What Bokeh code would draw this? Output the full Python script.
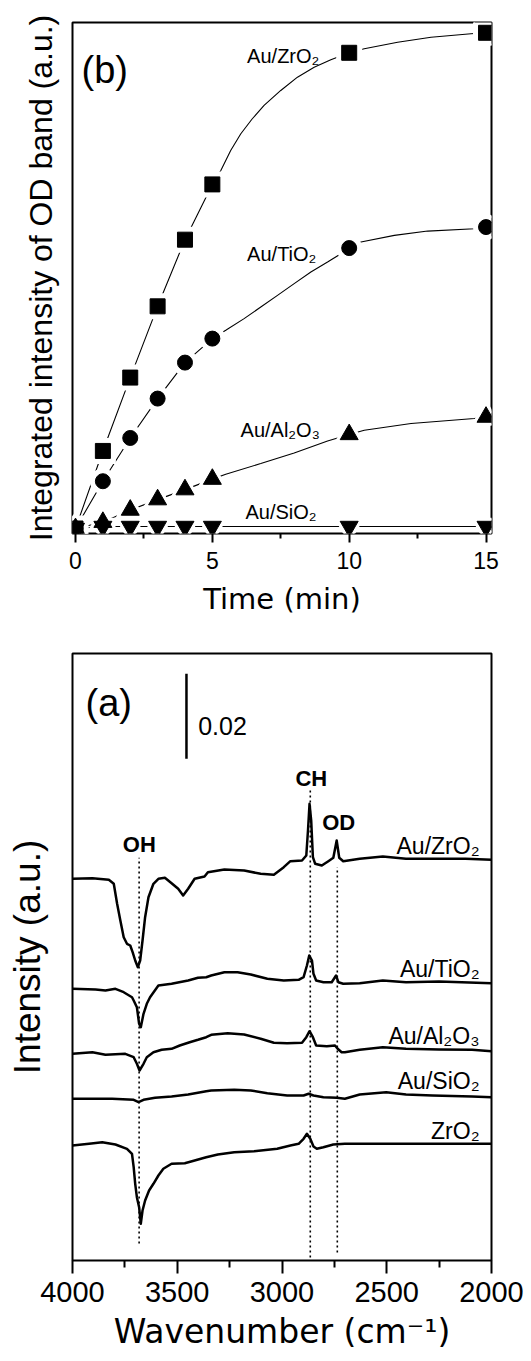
import math
from bokeh.plotting import figure
from bokeh.models import Range1d, FixedTicker, Label
from bokeh.layouts import column
from bokeh.embed import file_html
from bokeh.resources import INLINE

# ---------------- panel (b): integrated OD band intensity vs time ----------------
time_min = [0, 1, 2, 3, 4, 5, 10, 15]
od_au_zro2 = [5, 82.6, 156, 227.3, 294, 349.3, 481, 501]
od_au_tio2 = [5, 52.3, 95.6, 135, 171, 195, 285.6, 306.6]
od_au_al2o3 = [5, 11.3, 23.5, 33.9, 43.9, 54.4, 99.1, 116.5]
od_au_sio2 = [5, 7, 7, 7, 7, 7, 7, 7]

# guide curves
guide_zro2_t = [0, 1, 2, 3, 4, 5, 5.31, 5.67, 6.04, 6.46, 6.89, 7.5, 8.11, 8.72, 9.33, 10,
                10.55, 11.77, 12.99, 14.45, 15]
guide_zro2_v = [5, 82.6, 156, 227.3, 294, 349.3, 363.3, 383.3, 400, 415, 428.3, 443.3, 456.6,
                466.6, 474, 481, 485, 491.6, 496.6, 500, 501]
guide_tio2_t = [0, 1, 2, 3, 4, 5, 5.49, 6.16, 6.77, 7.38, 7.99, 8.6, 9.21, 9.7, 10, 10.43,
                11.65, 12.87, 14.57, 15]
guide_tio2_v = [5, 52.3, 95.6, 135, 171, 195, 203.3, 215, 226.6, 238.3, 250, 261.6, 271.6, 280,
                285.6, 291.6, 298.3, 302.6, 305, 306.6]
guide_al2o3_t = [0, 1, 2, 3, 4, 5, 5.49, 6.77, 7.99, 9.21, 10, 10.55, 12.26, 14.57, 15]
guide_al2o3_v = [5, 11.3, 23.5, 33.9, 43.9, 54.4, 59.3, 70, 80.6, 92.6, 99.1, 103.3, 110, 115, 116.5]
guide_sio2_t = [0, 1, 2, 3, 4, 5, 10, 15]
guide_sio2_v = [5, 7, 7, 7, 7, 7, 7, 7]

# ---------------- panel (a): spectra ----------------
au_zro2_w = [4000, 3905, 3826.5, 3803, 3787, 3771.6, 3755.6, 3740, 3724.4, 3713, 3700.7, 3688, 3677,
             3665.7, 3653.4, 3637.4, 3613.7, 3590, 3559, 3527, 3495.5, 3471.9, 3448, 3417, 3369.8,
             3353.7, 3275, 3180.6, 3101.7, 3038.8, 2991.5, 2960, 2904.5, 2884, 2876, 2868.6, 2860.6,
             2852.5, 2841.6, 2810, 2778.8, 2755, 2739, 2726.8, 2707.8, 2629, 2518.7, 2408, 2282,
             2124, 2000]
au_zro2_i = [381.7, 382.3, 380.7, 376.7, 356.7, 340, 323.3, 316.7, 315, 308.3, 300, 293.3, 300, 320,
             343.3, 363.3, 376.7, 381.7, 382.7, 377.3, 371.7, 365, 371.7, 381.7, 384, 388.3, 391, 390,
             386.7, 385.7, 393.3, 399.3, 400, 405, 430, 456.7, 440, 403.3, 396.7, 395, 399.3, 402.7,
             420, 402.7, 399.3, 401.7, 404, 401.7, 401.7, 401.7, 400.7]

au_tio2_w = [4000, 3890, 3842.6, 3795, 3755.6, 3716, 3708, 3692.7, 3682, 3674, 3661, 3645.4, 3629.8,
             3590, 3527, 3448, 3401, 3361.7, 3338, 3275, 3212, 3149, 3070, 2991.5, 2920.6, 2897, 2881,
             2870, 2857, 2849.7, 2837, 2802.4, 2762.7, 2742, 2731, 2707.8, 2629, 2518.7, 2408, 2250.6,
             2000]
au_tio2_i = [271.7, 271, 270, 271.7, 268.3, 263.3, 260, 253.3, 236.7, 233.3, 246.7, 256.7, 263.3, 275,
             276.7, 280, 282.7, 283.3, 285, 288.3, 288.3, 286, 281.7, 280, 280.7, 283.3, 295, 305, 300,
             286.7, 280, 278.3, 278.3, 285, 278.3, 276.7, 277.3, 280, 278.3, 279, 277.3]

au_al2o3_w = [4000, 3905, 3842.6, 3748, 3708, 3692.7, 3680, 3661, 3645.4, 3613.7, 3574.5, 3527, 3488,
              3440.7, 3401, 3361.7, 3338, 3259, 3180.6, 3101.7, 3038.8, 2975.5, 2904.5, 2884, 2868.6,
              2852.5, 2837, 2786.3, 2747, 2734.3, 2715.4, 2700, 2629, 2518.7, 2408, 2250.6, 2093, 2000]
au_al2o3_i = [206.7, 208.3, 205.7, 206.7, 203.3, 196.7, 190, 196.7, 203.3, 208.3, 210.7, 211.7, 215,
              218.3, 220.7, 223.3, 225.7, 227.3, 226, 221.7, 217.7, 217.3, 217.7, 223.3, 229.3, 223.3,
              215, 214.3, 215, 211.7, 208.3, 208.3, 210.7, 213.3, 211.7, 211, 210.7, 209.3]

au_sio2_w = [4000, 3811, 3708, 3684.6, 3661, 3606, 3527, 3448, 3361.7, 3338, 3228, 3149, 3070, 2975.5,
             2897, 2873, 2849.7, 2802.4, 2739, 2700, 2629, 2502.6, 2408, 2282, 2093, 2000]
au_sio2_i = [161.7, 161.7, 160.7, 158.3, 160.7, 162.7, 164, 166, 169.3, 170, 170.7, 170, 167.3, 165,
             165, 166.7, 165, 163.3, 162.7, 161.7, 166, 168.3, 166, 165, 164, 163.3]

zro2_w = [4000, 3921, 3858, 3795, 3740, 3716, 3708, 3700.7, 3692.7, 3682, 3674, 3665.7, 3653.4, 3634.5,
          3613.7, 3590, 3566.4, 3527, 3464, 3417, 3361.7, 3306.4, 3228, 3133.4, 3022.7, 2960, 2920.6,
          2897, 2881, 2865, 2849.7, 2834, 2802.4, 2755, 2700, 2534, 2250.6, 2000]
zro2_i = [115, 116.7, 118.3, 116, 111.7, 106.7, 93.3, 76.7, 63.3, 53.3, 36.7, 50, 60, 70, 76.7, 85,
          91.7, 96.7, 97.3, 100, 103.3, 106, 108.3, 109.3, 111.7, 115, 116.7, 121.7, 126.7, 121.7, 114,
          111.7, 113.3, 116, 116.7, 116.7, 116.7, 116.7]

band_names = ["OH", "CH", "OD"]
band_pos = [3682, 2865, 2736]
band_top = [402.7, 471.7, 393.3]
band_bottom = [17, 3, 8]

SANS = "Liberation Sans"
WIDE = "DejaVu Sans"


def base_style(p):
    p.outline_line_color = "black"
    p.outline_line_width = 2
    p.outline_line_alpha = 1.0
    p.xgrid.visible = False
    p.ygrid.visible = False
    p.background_fill_color = "white"
    p.border_fill_color = "white"
    for ax in p.xaxis:
        ax.axis_line_color = None
        ax.major_tick_line_color = "black"
        ax.minor_tick_line_color = "black"
        ax.major_tick_line_width = 2
        ax.minor_tick_line_width = 2
        ax.major_tick_in = 0
        ax.minor_tick_in = 0
        ax.major_label_text_font = SANS
        ax.major_label_text_color = "black"
        ax.axis_label_text_color = "black"
        ax.axis_label_text_font_style = "normal"
    for ax in p.yaxis:
        ax.ticker = FixedTicker(ticks=[])
        ax.axis_line_color = None
        ax.major_tick_out = 0
        ax.major_tick_in = 0
        ax.minor_tick_out = 0
        ax.minor_tick_in = 0
        ax.major_label_standoff = 0
        ax.axis_label_text_font = SANS
        ax.axis_label_text_font_style = "normal"
        ax.axis_label_text_color = "black"


# ---------------- top figure (b) ----------------
pb = figure(width=530, height=640, x_range=Range1d(-0.11, 15.2), y_range=Range1d(0, 511.3),
            output_backend="svg", toolbar_location=None,
            min_border_left=72, min_border_right=39, min_border_top=22, min_border_bottom=107)
base_style(pb)
pb.xaxis.ticker = FixedTicker(ticks=[0, 5, 10, 15], minor_ticks=[2.5, 7.5, 12.5])
pb.xaxis.major_tick_out = 9
pb.xaxis.minor_tick_out = 5
pb.xaxis.major_label_text_font_size = "23px"
pb.xaxis.major_label_standoff = 9
pb.xaxis.axis_label = "Time (min)"
pb.xaxis.axis_label_text_font = WIDE
pb.xaxis.axis_label_text_font_size = "29px"
pb.xaxis.axis_label_standoff = 10
pb.yaxis.axis_label = "Integrated intensity of OD band (a.u.)"
pb.yaxis.axis_label_text_font_size = "32px"
pb.yaxis.axis_label_standoff = 14

series = [
    (guide_zro2_t, guide_zro2_v, od_au_zro2, "square", 15),
    (guide_tio2_t, guide_tio2_v, od_au_tio2, "circle", 15),
    (guide_al2o3_t, guide_al2o3_v, od_au_al2o3, "triangle", 18),
    (guide_sio2_t, guide_sio2_v, od_au_sio2, "inverted_triangle", 18),
]
for gt, gv, _, _, _ in series:
    pb.line(gt, gv, line_color="black", line_width=1.1)
for _, _, vals, mk, sz in series:
    pb.scatter(time_min, vals, marker=mk, size=sz + 9, fill_color="white",
               line_color="white", line_width=2)
for _, _, vals, mk, sz in series:
    pb.scatter(time_min, vals, marker=mk, size=sz, fill_color="black", line_color="black")

for txt, x, y in [("Au/ZrO₂", 6.27, 477.3), ("Au/TiO₂", 6.27, 280),
                  ("Au/Al₂O₃", 6.03, 103.3), ("Au/SiO₂", 6.21, 21.6)]:
    pb.add_layout(Label(x=x, y=y, text=txt, text_font=SANS, text_font_size="20px",
                        text_color="black", text_align="left", text_baseline="alphabetic"))
pb.add_layout(Label(x=0.22, y=463.3, text="(b)", text_font=SANS, text_font_size="38px",
                    text_color="black", text_align="left", text_baseline="alphabetic"))

# ---------------- bottom figure (a) ----------------
pa = figure(width=530, height=720, x_range=Range1d(4000, 2000), y_range=Range1d(0, 607),
            output_backend="svg", toolbar_location=None,
            min_border_left=70, min_border_right=37, min_border_top=13, min_border_bottom=100)
base_style(pa)
pa.xaxis.ticker = FixedTicker(ticks=[4000, 3500, 3000, 2500, 2000],
                              minor_ticks=[3750, 3250, 2750, 2250])
pa.xaxis.major_tick_out = 13
pa.xaxis.minor_tick_out = 7
pa.xaxis.major_label_text_font_size = "29px"
pa.xaxis.major_label_standoff = 8
pa.xaxis.axis_label = "Wavenumber (cm⁻¹)"
pa.xaxis.axis_label_text_font = WIDE
pa.xaxis.axis_label_text_font_size = "33px"
pa.xaxis.axis_label_standoff = 7
pa.yaxis.axis_label = "Intensity (a.u.)"
pa.yaxis.axis_label_text_font_size = "37px"
pa.yaxis.axis_label_standoff = 25
pa.yaxis.bounds = (0, 580)

for w, i in [(au_zro2_w, au_zro2_i), (au_tio2_w, au_tio2_i), (au_al2o3_w, au_al2o3_i),
             (au_sio2_w, au_sio2_i), (zro2_w, zro2_i)]:
    pa.line(w, i, line_color="black", line_width=2.5, line_join="round")

pa.segment(x0=band_pos, y0=band_bottom, x1=band_pos, y1=band_top, line_color="black",
           line_width=1.6, line_dash="2 3")

# scale bar (0.02 absorbance)
pa.segment(x0=[3456], y0=[501.7], x1=[3456], y1=[586.7], line_color="black", line_width=2.5)
pa.add_layout(Label(x=3400, y=535, text="0.02", text_font=SANS, text_font_size="25px",
                    text_color="black", text_align="left", text_baseline="alphabetic"))

for txt, x, y, al in [("OH", 3681, 416, "center"), ("CH", 2860, 482, "center"),
                      ("OD", 2808, 438, "left")]:
    pa.add_layout(Label(x=x, y=y, text=txt, text_font=SANS, text_font_size="22px",
                        text_font_style="bold", text_color="black", text_align=al,
                        text_baseline="alphabetic"))

for txt, y in [("Au/ZrO₂", 415), ("Au/TiO₂", 291.7), ("Au/Al₂O₃", 225), ("Au/SiO₂", 179.3),
               ("ZrO₂", 130)]:
    pa.add_layout(Label(x=2057, y=y, text=txt, text_font=SANS, text_font_size="23px",
                        text_color="black", text_align="right", text_baseline="alphabetic"))

pa.add_layout(Label(x=3938, y=558, text="(a)", text_font=SANS, text_font_size="38px",
                    text_color="black", text_align="left", text_baseline="alphabetic"))

layout = column(pb, pa, spacing=0)
open("out.html", "w").write(file_html(layout, INLINE))
